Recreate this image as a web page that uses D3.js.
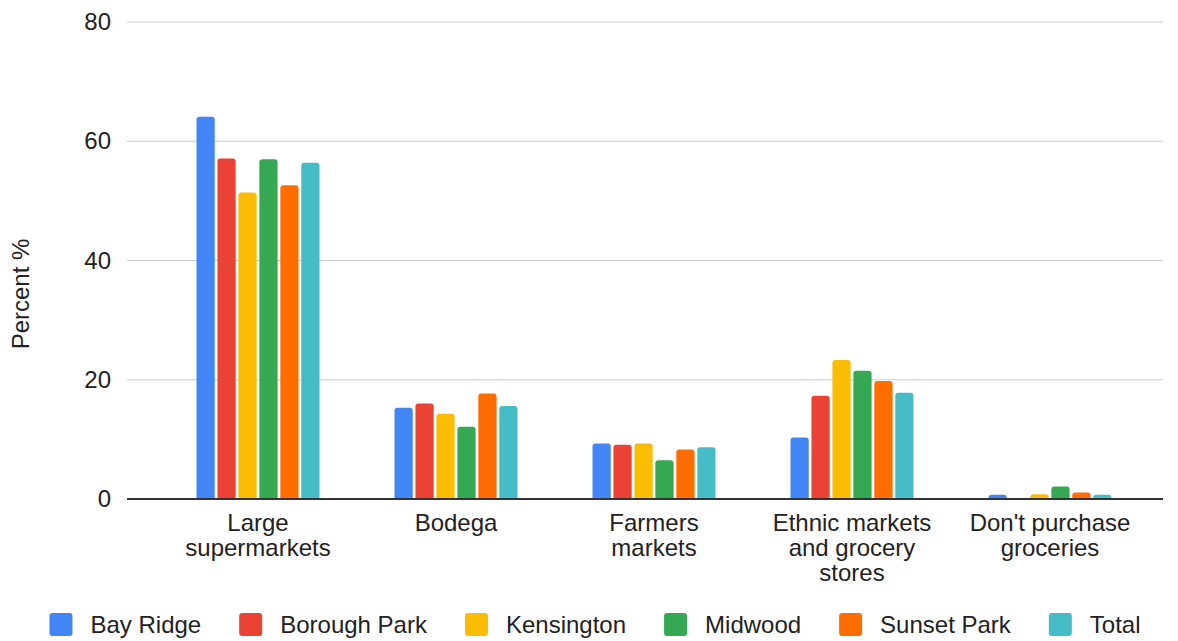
<!DOCTYPE html>
<html>
<head>
<meta charset="utf-8">
<script src="https://cdn.jsdelivr.net/npm/d3@7"></script>
<style>
  html, body { margin: 0; padding: 0; background: #fff; }
  svg { display: block; font-family: "Liberation Sans", Arial, sans-serif; }
</style>
</head>
<body>
<svg id="chart" width="1178" height="641"></svg>
<script>
const categories = [
  ["Large", "supermarkets"],
  ["Bodega"],
  ["Farmers", "markets"],
  ["Ethnic markets", "and grocery", "stores"],
  ["Don't purchase", "groceries"]
];
const categoryKeys = ["Large supermarkets", "Bodega", "Farmers markets", "Ethnic markets and grocery stores", "Don't purchase groceries"];
const seriesNames = ["Bay Ridge", "Borough Park", "Kensington", "Midwood", "Sunset Park", "Total"];
const seriesColors = ["#4285F4", "#EA4335", "#FBBC04", "#34A853", "#FF6D01", "#46BDC6"];
const bayRidge    = [64.1, 15.3, 9.3, 10.3, 0.7];
const boroughPark = [57.1, 16.0, 9.1, 17.3, 0.0];
const kensington  = [51.4, 14.3, 9.3, 23.3, 0.8];
const midwood     = [57.0, 12.1, 6.5, 21.5, 2.1];
const sunsetPark  = [52.6, 17.7, 8.3, 19.8, 1.1];
const total       = [56.4, 15.6, 8.7, 17.8, 0.7];
const yTicks = [0, 20, 40, 60, 80];
const yLabel = "Percent %";

const seriesValues = [bayRidge, boroughPark, kensington, midwood, sunsetPark, total];

const svg = d3.select("#chart");
const FONT = 24;

const y = d3.scaleLinear().domain([0, 80]).range([499, 22]);
const x0 = d3.scaleBand().domain(categoryKeys).range([159, 1149]).paddingInner(0).paddingOuter(0);
const step = x0.bandwidth();
const x1 = d3.scaleBand().domain(seriesNames).range([37.5, step - 37.5]).paddingInner(0.13).paddingOuter(0);

// gridlines
const gridL = 127, gridR = 1163;
svg.append("g").selectAll("line").data(yTicks.filter(t => t !== 0)).join("line")
  .attr("x1", gridL).attr("x2", gridR)
  .attr("y1", d => y(d)).attr("y2", d => y(d))
  .attr("stroke", "#cccccc").attr("stroke-width", 1);

// y axis labels
const yAxis = d3.axisLeft(y).tickValues(yTicks).tickSize(0).tickPadding(0);
const yg = svg.append("g").attr("transform", `translate(111,0)`).call(yAxis);
yg.select(".domain").remove();
yg.selectAll("text").attr("font-size", FONT).attr("fill", "#222").attr("font-family", "Liberation Sans, Arial, sans-serif");

// y title
svg.append("text")
  .attr("transform", "translate(29,294) rotate(-90)")
  .attr("text-anchor", "middle")
  .attr("font-size", FONT).attr("fill", "#222")
  .text(yLabel);

// bars
function barPath(x, w, yTop, yBase, r) {
  const h = yBase - yTop;
  if (h <= 0) return "";
  r = Math.min(r, h, w / 2);
  return `M${x},${yBase} L${x},${yTop + r} Q${x},${yTop} ${x + r},${yTop} L${x + w - r},${yTop} Q${x + w},${yTop} ${x + w},${yTop + r} L${x + w},${yBase} Z`;
}
const groups = svg.append("g").selectAll("g").data(categoryKeys).join("g")
  .attr("transform", d => `translate(${x0(d)},0)`);
groups.each(function(cat, ci) {
  d3.select(this).selectAll("path").data(seriesNames).join("path")
    .attr("d", (s, si) => barPath(x1(s), x1.bandwidth(), y(seriesValues[si][ci]), y(0), 3))
    .attr("fill", (s, si) => seriesColors[si]);
});

// baseline
svg.append("line").attr("x1", gridL).attr("x2", gridR)
  .attr("y1", y(0)).attr("y2", y(0)).attr("stroke", "#333").attr("stroke-width", 2);

// category labels
const catG = svg.append("g");
categoryKeys.forEach((k, i) => {
  const cx = x0(k) + step / 2;
  const t = catG.append("text").attr("text-anchor", "middle").attr("font-size", FONT).attr("fill", "#222");
  categories[i].forEach((line, li) => {
    t.append("tspan").attr("x", cx).attr("y", 531 + li * 25).text(line);
  });
});

// legend
const leg = svg.append("g");
const sq = 23, gapText = 18, gapItem = 38;
const items = seriesNames.map((n, i) => {
  const g = leg.append("g");
  g.append("rect").attr("x", 0).attr("y", -sq / 2).attr("width", sq).attr("height", sq)
    .attr("rx", 3).attr("fill", seriesColors[i]);
  const t = g.append("text").attr("x", sq + gapText).attr("y", 8.5)
    .attr("font-size", FONT).attr("fill", "#222").text(n);
  return { g, w: sq + gapText + t.node().getComputedTextLength() };
});
const totalW = d3.sum(items, d => d.w) + gapItem * (items.length - 1);
let lx = 595 - totalW / 2;
items.forEach(it => {
  it.g.attr("transform", `translate(${lx},624.5)`);
  lx += it.w + gapItem;
});
</script>
</body>
</html>
